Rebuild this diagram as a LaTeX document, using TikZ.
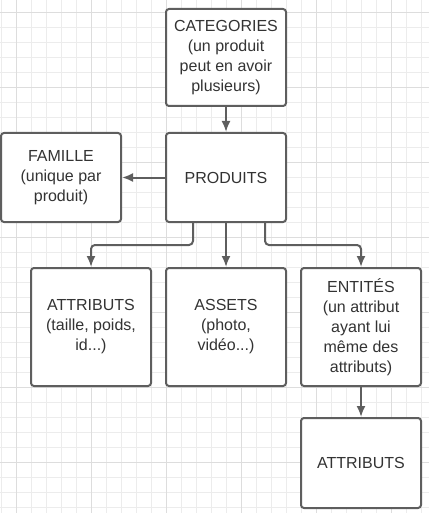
\documentclass[tikz,border=0pt]{standalone}
\usepackage{fontspec}
\setmainfont{Liberation Sans}
\usetikzlibrary{arrows.meta}
\definecolor{gridminor}{RGB}{236,236,236}
\definecolor{gridmajor}{RGB}{221,221,221}
\definecolor{boxline}{RGB}{94,94,94}
\definecolor{boxtext}{RGB}{51,51,51}
\tikzset{
  box/.style={draw=boxline, line width=2pt, rounded corners=3pt, fill=white,
    minimum width=120pt, align=center, inner sep=0pt, text=boxtext,
    font=\fontsize{16}{20}\selectfont},
  conn/.style={draw=boxline, line width=2pt, rounded corners=4pt,
    -{Latex[length=11pt,width=9pt]}}
}
\begin{document}
\begin{tikzpicture}[x=1pt,y=-1pt]
  \useasboundingbox (0,0) rectangle (429,513);
  \foreach \gx in {1.5,16.5,...,429} \draw[gridminor,line width=1pt] (\gx,0) -- (\gx,513);
  \foreach \gy in {12.5,27.5,...,513} \draw[gridminor,line width=1pt] (0,\gy) -- (429,\gy);
  \foreach \gx in {16.5,91.5,...,429} \draw[gridmajor,line width=1pt] (\gx,0) -- (\gx,513);
  \foreach \gy in {12.5,87.5,...,513} \draw[gridmajor,line width=1pt] (0,\gy) -- (429,\gy);
  \node[box, minimum height=97pt] (cat) at (226,57.5) {CATEGORIES\\(un produit\\peut en avoir\\plusieurs)};
  \node[box, minimum height=89pt] (prod) at (226,177.5) {PRODUITS};
  \node[box, minimum height=89pt] (fam) at (61,177.5) {FAMILLE\\(unique par\\produit)};
  \node[box, minimum height=118pt] (attr) at (91,327) {ATTRIBUTS\\(taille, poids,\\id...)};
  \node[box, minimum height=118pt] (assets) at (226,327) {ASSETS\\(photo,\\vidéo...)};
  \node[box, minimum height=118pt] (ent) at (361,327) {ENTITÉS\\(un attribut\\ayant lui\\même des\\attributs)};
  \node[box, minimum height=90pt] (subattr) at (361,463) {ATTRIBUTS};
  \draw[conn] (cat) -- (prod);
  \draw[conn] (prod) -- (fam);
  \draw[conn] (prod) -- (assets);
  \draw[conn] ([xshift=-33pt]prod.south) -- ++(0,22) -| (attr.north);
  \draw[conn] ([xshift=39pt]prod.south) -- ++(0,22) -| (ent.north);
  \draw[conn] (ent) -- (subattr);
\end{tikzpicture}
\end{document}
